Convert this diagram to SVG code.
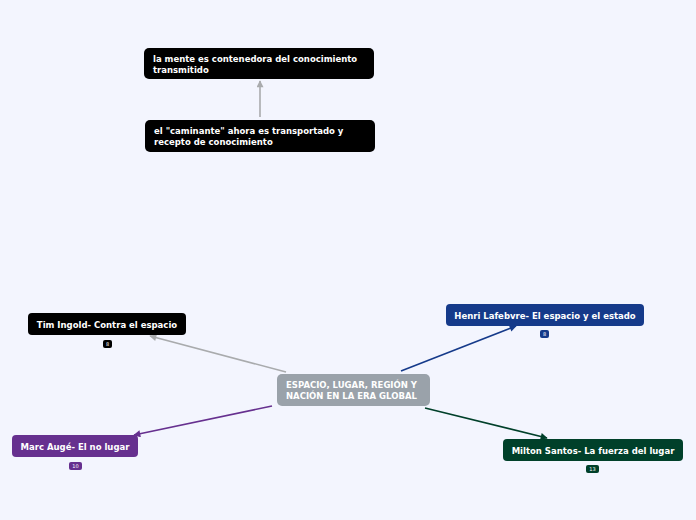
<svg xmlns="http://www.w3.org/2000/svg" width="696" height="520" viewBox="0 0 696 520">
<defs>
<style>
.t{font-family:"DejaVu Sans",Verdana,sans-serif;font-weight:bold;font-size:8.5px;fill:#fff}
.b{font-family:"DejaVu Sans",Verdana,sans-serif;font-size:5px;fill:#fff;text-anchor:middle}
.c{fill:none;stroke-width:1.6}
</style>
<marker id="ag" viewBox="0 0 10 10" refX="9" refY="5" markerWidth="8" markerHeight="7" orient="auto" markerUnits="userSpaceOnUse"><path d="M0,0L10,5L0,10z" fill="#a9abad"/></marker>
<marker id="ab" viewBox="0 0 10 10" refX="9" refY="5" markerWidth="8" markerHeight="7" orient="auto" markerUnits="userSpaceOnUse"><path d="M0,0L10,5L0,10z" fill="#153a8a"/></marker>
<marker id="ap" viewBox="0 0 10 10" refX="9" refY="5" markerWidth="8" markerHeight="7" orient="auto" markerUnits="userSpaceOnUse"><path d="M0,0L10,5L0,10z" fill="#66308f"/></marker>
<marker id="an" viewBox="0 0 10 10" refX="9" refY="5" markerWidth="8" markerHeight="7" orient="auto" markerUnits="userSpaceOnUse"><path d="M0,0L10,5L0,10z" fill="#00402a"/></marker>
</defs>
<rect width="696" height="520" fill="#f3f5fe"/>
<g id="connectors">
<line class="c" x1="260" y1="117" x2="260" y2="81" stroke="#a9abad" marker-end="url(#ag)"/>
<line class="c" x1="286" y1="372" x2="150" y2="336" stroke="#a9abad" marker-end="url(#ag)"/>
<line class="c" x1="401" y1="371" x2="516" y2="326" stroke="#153a8a" marker-end="url(#ab)"/>
<line class="c" x1="272" y1="406" x2="134" y2="435" stroke="#66308f" marker-end="url(#ap)"/>
<line class="c" x1="425" y1="408" x2="547" y2="438" stroke="#00402a" marker-end="url(#an)"/>
</g>
<g id="n1">
<rect x="144" y="48" width="230" height="31" rx="5" fill="#000"/>
<text class="t" x="153" y="62">la mente es contenedora del conocimiento</text>
<text class="t" x="153" y="73">transmitido</text>
</g>
<g id="n2">
<rect x="145" y="120" width="230" height="32" rx="5" fill="#000"/>
<text class="t" x="154" y="134">el "caminante" ahora es transportado y</text>
<text class="t" x="154" y="145">recepto de conocimiento</text>
</g>
<g id="center">
<rect x="277" y="374" width="153" height="32" rx="5" fill="#9aa2aa"/>
<text class="t" x="286" y="388">ESPACIO, LUGAR, REGIÓN Y</text>
<text class="t" x="286" y="399">NACIÓN EN LA ERA GLOBAL</text>
</g>
<g id="tim">
<rect x="28" y="313" width="158" height="22" rx="4" fill="#000"/>
<text class="t" x="107" y="327.5" text-anchor="middle">Tim Ingold- Contra el espacio</text>
<rect x="103" y="340" width="9" height="8" rx="2" fill="#000"/>
<text class="b" x="107.5" y="346">8</text>
</g>
<g id="henri">
<rect x="446" y="304" width="198" height="22" rx="4" fill="#153a8a"/>
<text class="t" x="545" y="318.5" text-anchor="middle">Henri Lafebvre- El espacio y el estado</text>
<rect x="540" y="330" width="9" height="8" rx="2" fill="#153a8a"/>
<text class="b" x="544.5" y="336">8</text>
</g>
<g id="marc">
<rect x="12" y="435" width="126" height="22" rx="4" fill="#66308f"/>
<text class="t" x="75" y="449.5" text-anchor="middle">Marc Augé- El no lugar</text>
<rect x="69" y="462" width="13" height="8" rx="2" fill="#66308f"/>
<text class="b" x="75.5" y="468">10</text>
</g>
<g id="milton">
<rect x="503" y="439" width="180" height="22" rx="4" fill="#00402a"/>
<text class="t" x="593" y="453.5" text-anchor="middle">Milton Santos- La fuerza del lugar</text>
<rect x="586" y="465" width="13" height="8" rx="2" fill="#00402a"/>
<text class="b" x="592.5" y="471">13</text>
</g>
</svg>
